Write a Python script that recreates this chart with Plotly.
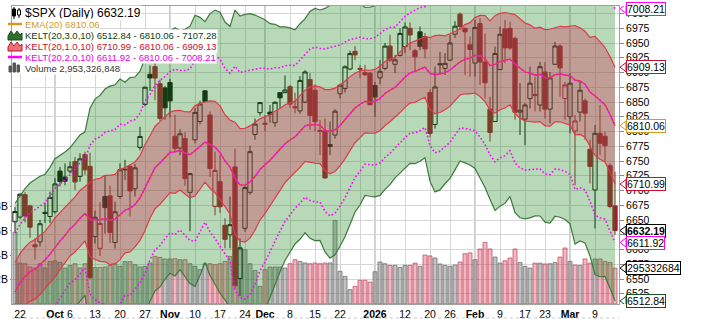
import plotly.graph_objects as go

# ---------------- data ----------------
dates = [
    "2025-09-19",
    "2025-09-22", "2025-09-23", "2025-09-24", "2025-09-25", "2025-09-26",
    "2025-09-29", "2025-09-30", "2025-10-01", "2025-10-02", "2025-10-03",
    "2025-10-06", "2025-10-07", "2025-10-08", "2025-10-09", "2025-10-10",
    "2025-10-13", "2025-10-14", "2025-10-15", "2025-10-16", "2025-10-17",
    "2025-10-20", "2025-10-21", "2025-10-22", "2025-10-23", "2025-10-24",
    "2025-10-27", "2025-10-28", "2025-10-29", "2025-10-30", "2025-10-31",
    "2025-11-03", "2025-11-04", "2025-11-05", "2025-11-06", "2025-11-07",
    "2025-11-10", "2025-11-11", "2025-11-12", "2025-11-13", "2025-11-14",
    "2025-11-17", "2025-11-18", "2025-11-19", "2025-11-20", "2025-11-21",
    "2025-11-24", "2025-11-25", "2025-11-26", "2025-11-28",
    "2025-12-01", "2025-12-02", "2025-12-03", "2025-12-04", "2025-12-05",
    "2025-12-08", "2025-12-09", "2025-12-10", "2025-12-11", "2025-12-12",
    "2025-12-15", "2025-12-16", "2025-12-17", "2025-12-18", "2025-12-19",
    "2025-12-22", "2025-12-23", "2025-12-24", "2025-12-26",
    "2025-12-29", "2025-12-30", "2025-12-31", "2026-01-02",
    "2026-01-05", "2026-01-06", "2026-01-07", "2026-01-08", "2026-01-09",
    "2026-01-12", "2026-01-13", "2026-01-14", "2026-01-15", "2026-01-16",
    "2026-01-20", "2026-01-21", "2026-01-22", "2026-01-23",
    "2026-01-26", "2026-01-27", "2026-01-28", "2026-01-29", "2026-01-30",
    "2026-02-02", "2026-02-03", "2026-02-04", "2026-02-05", "2026-02-06",
    "2026-02-09", "2026-02-10", "2026-02-11", "2026-02-12", "2026-02-13",
    "2026-02-17", "2026-02-18", "2026-02-19", "2026-02-20",
    "2026-02-23", "2026-02-24", "2026-02-25", "2026-02-26", "2026-02-27",
    "2026-03-02", "2026-03-03", "2026-03-04", "2026-03-05", "2026-03-06",
    "2026-03-09", "2026-03-10", "2026-03-11", "2026-03-12", "2026-03-13",
]

opens = [
    6647, 6655, 6693, 6674, 6608, 6613, 6663, 6656, 6664, 6733, 6723,
    6733, 6749, 6724, 6761, 6741, 6622, 6602, 6690, 6691, 6612,
    6690, 6736, 6741, 6703, 6773, 6846, 6897, 6910, 6881, 6874,
    6883, 6792, 6772, 6788, 6697, 6786, 6817, 6869, 6828, 6673,
    6715, 6641, 6625, 6740, 6551, 6636, 6697, 6795, 6832,
    6814, 6833, 6815, 6866, 6866, 6876, 6842, 6835, 6850, 6888,
    6870, 6802, 6801, 6778, 6794, 6864, 6873, 6906, 6936,
    6907, 6900, 6899, 6878, 6891, 6907, 6945, 6914, 6929,
    6944, 6975, 6937, 6969, 6961, 6866, 6812, 6915, 6907,
    6921, 6965, 6999, 6975, 6947, 6916, 6983, 6918, 6838, 6817,
    6905, 6974, 6975, 6958, 6833, 6821, 6856, 6863, 6845,
    6901, 6838, 6914, 6945, 6856, 6825, 6801, 6833, 6852, 6770,
    6701, 6797, 6792, 6742, 6674,
]
highs = [
    6672, 6695, 6697, 6676, 6619, 6650, 6678, 6698, 6721, 6740, 6746,
    6749, 6757, 6763, 6766, 6764, 6666, 6680, 6726, 6708, 6681,
    6746, 6752, 6744, 6745, 6808, 6876, 6912, 6920, 6888, 6877,
    6889, 6828, 6804, 6799, 6730, 6840, 6852, 6870, 6834, 6766,
    6760, 6653, 6690, 6771, 6619, 6709, 6776, 6822, 6850,
    6828, 6845, 6851, 6867, 6895, 6879, 6866, 6894, 6904, 6899,
    6880, 6820, 6822, 6817, 6838, 6881, 6912, 6937, 6945,
    6913, 6913, 6901, 6884, 6921, 6950, 6964, 6930, 6975,
    6985, 6985, 6940, 6978, 6967, 6872, 6910, 6935, 6933,
    6964, 6987, 7002, 6976, 6961, 6989, 6992, 6966, 6859, 6944,
    6978, 6989, 6986, 6961, 6882, 6848, 6910, 6893, 6918,
    6918, 6901, 6952, 6948, 6884, 6899, 6828, 6887, 6856, 6786,
    6811, 6845, 6800, 6746, 6732,
]
lows = [
    6630, 6652, 6646, 6620, 6583, 6605, 6645, 6645, 6661, 6707, 6709,
    6729, 6701, 6715, 6727, 6550, 6610, 6589, 6627, 6611, 6602,
    6686, 6718, 6656, 6690, 6768, 6843, 6869, 6853, 6818, 6820,
    6824, 6766, 6760, 6708, 6631, 6780, 6812, 6850, 6723, 6658,
    6662, 6602, 6602, 6535, 6521, 6630, 6693, 6786, 6827,
    6800, 6815, 6808, 6839, 6865, 6840, 6831, 6830, 6848, 6803,
    6801, 6760, 6720, 6760, 6788, 6856, 6866, 6904, 6921,
    6890, 6894, 6845, 6825, 6880, 6904, 6918, 6899, 6927,
    6933, 6938, 6901, 6938, 6924, 6790, 6805, 6896, 6896,
    6920, 6959, 6972, 6896, 6893, 6893, 6879, 6856, 6783, 6817,
    6904, 6916, 6938, 6820, 6794, 6777, 6839, 6834, 6834,
    6822, 6814, 6913, 6859, 6820, 6797, 6709, 6817, 6786, 6712,
    6636, 6760, 6750, 6670, 6625,
]
closes = [
    6664.36, 6693.75, 6656.92, 6637.97, 6604.72, 6643.70, 6661.21, 6688.46, 6711.20, 6715.35, 6715.79,
    6740.28, 6714.59, 6753.72, 6735.11, 6552.51, 6654.72, 6644.31, 6671.06, 6629.07, 6664.01,
    6735.13, 6735.35, 6699.40, 6738.44, 6791.69, 6875.16, 6890.89, 6890.59, 6822.34, 6840.20,
    6851.97, 6771.55, 6796.29, 6720.32, 6728.80, 6832.43, 6846.61, 6850.92, 6737.49, 6734.11,
    6672.41, 6617.32, 6642.16, 6538.76, 6602.99, 6705.12, 6765.88, 6812.61, 6849.09,
    6812.63, 6829.37, 6849.72, 6857.12, 6870.40, 6846.51, 6840.51, 6886.68, 6901.00, 6827.41,
    6816.51, 6800.26, 6721.43, 6774.76, 6834.50, 6878.49, 6909.79, 6932.05, 6929.94,
    6905.74, 6896.24, 6845.50, 6858.47, 6902.05, 6944.82, 6920.93, 6921.46, 6966.28,
    6977.27, 6963.74, 6926.60, 6944.47, 6940.01, 6796.86, 6875.62, 6913.35, 6915.61,
    6950.23, 6978.60, 6978.03, 6969.01, 6939.03, 6976.44, 6917.81, 6882.72, 6798.40, 6932.30,
    6964.82, 6941.81, 6941.47, 6832.76, 6836.17, 6845, 6882, 6861, 6910,
    6838, 6891, 6945, 6908, 6879, 6882, 6818, 6870, 6831, 6741,
    6797, 6780, 6776, 6673, 6632.19,
]
volume_b = [
    5.90, 3.37, 3.31, 3.04, 2.96, 3.31, 2.96, 3.50, 3.55, 3.43, 2.96,
    3.16, 3.31, 2.96, 3.31, 3.60, 3.00, 3.00, 3.04, 3.16, 3.31,
    3.09, 3.48, 3.48, 3.23, 3.04, 3.09, 3.37, 3.91, 3.83, 3.70,
    3.70, 3.72, 3.64, 3.64, 3.31, 3.09, 2.82, 3.31, 3.31, 3.23,
    3.31, 3.50, 3.91, 3.60, 4.46, 4.46, 3.31, 2.76, 1.45,
    2.82, 3.04, 3.04, 3.04, 2.96, 3.31, 3.64, 3.50, 3.37, 3.31,
    3.37, 3.31, 3.37, 3.37, 6.85, 2.68, 2.27, 1.18, 1.45,
    1.95, 1.95, 1.80, 2.65, 3.45, 3.31, 3.17, 3.17, 3.00,
    3.17, 3.17, 3.36, 3.10, 4.02, 3.95, 3.78, 3.29, 3.17,
    3.09, 3.20, 3.45, 4.13, 4.20, 3.64, 4.52, 5.06, 4.52, 3.86,
    3.36, 3.55, 3.78, 4.52, 3.40, 3.09, 2.95, 3.36, 3.36,
    3.29, 3.31, 3.40, 3.86, 4.60, 3.50, 3.20, 3.17, 3.70, 3.36,
    3.70, 3.70, 3.50, 3.40, 2.953326848,
]
ema20 = [
    6528.0, 6543.8, 6554.6, 6562.5, 6566.5, 6573.9, 6582.2, 6592.3, 6603.6, 6614.3, 6623.9,
    6635.0, 6642.6, 6653.2, 6661.0, 6650.7, 6651.1, 6650.4, 6652.4, 6650.2, 6651.5,
    6659.5, 6666.7, 6669.8, 6676.4, 6687.3, 6705.2, 6722.9, 6738.9, 6746.8, 6755.7,
    6764.9, 6765.5, 6768.4, 6763.8, 6760.5, 6767.4, 6774.9, 6782.2, 6777.9, 6773.7,
    6764.1, 6750.1, 6739.8, 6720.7, 6709.5, 6709.1, 6714.5, 6723.8, 6735.7,
    6743.1, 6751.3, 6760.7, 6769.8, 6779.4, 6785.8, 6791.0, 6800.1, 6809.7, 6811.4,
    6811.9, 6810.8, 6802.3, 6799.7, 6803.0, 6810.2, 6819.7, 6830.4, 6839.9,
    6846.2, 6851.0, 6850.5, 6851.3, 6856.1, 6864.5, 6869.9, 6874.8, 6883.5,
    6892.4, 6899.2, 6901.8, 6905.9, 6909.2, 6898.5, 6896.3, 6897.9, 6899.6,
    6904.4, 6911.5, 6917.8, 6922.7, 6924.3, 6929.2, 6928.1, 6923.8, 6911.9, 6913.8,
    6918.7, 6920.9, 6922.8, 6914.3, 6906.8, 6900.9, 6899.1, 6895.5, 6896.9,
    6891.3, 6891.3, 6896.4, 6897.5, 6895.7, 6894.4, 6887.1, 6885.5, 6880.3, 6867.0,
    6860.4, 6852.7, 6845.4, 6829.0, 6810.062,
]
atr10 = [
    50.0, 49.3, 49.5, 50.1, 50.6, 50.1, 48.5, 49.0, 50.1, 48.4, 47.2,
    45.8, 46.8, 47.0, 46.2, 63.0, 68.0, 70.3, 73.2, 75.6, 75.9,
    76.5, 72.3, 73.9, 72.0, 71.7, 73.0, 70.0, 69.7, 70.0, 68.7,
    68.3, 70.1, 67.5, 69.8, 72.7, 76.6, 72.9, 68.0, 74.0, 77.4,
    79.4, 78.5, 79.5, 95.1, 95.4, 96.5, 95.1, 91.2, 85.8,
    82.1, 77.2, 73.7, 69.2, 66.0, 63.3, 60.5, 60.9, 60.4, 64.1,
    65.6, 65.1, 68.8, 71.4, 70.6, 68.2, 66.0, 62.7, 58.8,
    56.9, 53.1, 53.4, 54.0, 54.8, 54.2, 53.3, 51.1, 51.3,
    51.4, 51.0, 52.1, 52.1, 51.2, 61.0, 66.2, 65.6, 62.7,
    61.3, 58.8, 55.9, 58.6, 60.3, 63.9, 68.8, 72.9, 75.6, 82.6,
    81.7, 80.9, 77.6, 83.9, 84.3, 83.0, 81.8, 79.5, 80.0,
    81.6, 82.1, 80.0, 80.9, 81.6, 83.6, 92.6, 90.3, 89.7, 92.6,
    100.9, 99.6, 97.0, 98.0, 99.0726,
]

tick_dates = ["2025-09-22", "2025-09-29", "2025-10-01", "2025-10-06", "2025-10-13",
              "2025-10-20", "2025-10-27", "2025-11-03", "2025-11-10", "2025-11-17",
              "2025-11-24", "2025-12-01", "2025-12-08", "2025-12-15", "2025-12-22",
              "2025-12-29", "2026-01-02", "2026-01-05", "2026-01-12", "2026-01-20",
              "2026-01-26", "2026-02-02", "2026-02-09", "2026-02-17", "2026-02-23",
              "2026-03-02", "2026-03-09"]
tick_text = ["22", "", "<b>Oct</b>", "6", "13", "20", "27", "<b>Nov</b>", "10", "17",
             "24", "<b>Dec</b>", "8", "15", "22", "", "<b>2026</b>", "", "12", "20",
             "26", "<b>Feb</b>", "9", "17", "23", "<b>Mar</b>", "9"]
month_dates = ["2025-10-01", "2025-11-03", "2025-12-01", "2026-01-02", "2026-02-02", "2026-03-02"]

vol_tick_vals = [2e9, 4e9, 6e9, 8e9]
vol_tick_text = ["2B", "4B", "6B", "8B"]

# ---------------- derived ----------------
n = len(dates)
xi = list(range(n))
up3 = [e + 3 * a for e, a in zip(ema20, atr10)]
lo3 = [e - 3 * a for e, a in zip(ema20, atr10)]
up1 = [e + 1 * a for e, a in zip(ema20, atr10)]
lo1 = [e - 1 * a for e, a in zip(ema20, atr10)]
up2 = [e + 2 * a for e, a in zip(ema20, atr10)]
lo2 = [e - 2 * a for e, a in zip(ema20, atr10)]
volume = [v * 1e9 for v in volume_b]

is_down = [i > 0 and closes[i] < closes[i - 1] for i in xi]
blk = [i for i in xi if not is_down[i]]
red = [i for i in xi if is_down[i]]

W, H = 710, 319
L, R, T, B = 12, 91, 6, 15
PW, PH = W - L - R, H - T - B
PX_PER_DAY = 5.0


def px_x(px):
    return (px - L) / PW


def px_y(py):
    return 1 - (py - T) / PH


FONT = "Liberation Sans, Arial, sans-serif"
BLACK = "#0a160a"
RED = "#a8182c"
GREEN_LINE = "#3c7a3c"
GREEN_FILL = "rgba(40,140,40,0.33)"
RED_LINE = "#e03a4a"
RED_FILL = "rgba(210,40,80,0.33)"
MAGENTA = "#ff00ff"
ORANGE = "#d49a1e"

fig = go.Figure()

# volume (base axis, left)
vol_fill = ["rgba(205,60,85,0.36)" if d else "rgba(110,110,110,0.42)" for d in is_down]
vol_line = ["rgba(200,70,95,0.75)" if d else "rgba(100,100,100,0.7)" for d in is_down]
fig.add_trace(go.Bar(x=xi, y=volume, marker=dict(color=vol_fill, line=dict(color=vol_line, width=1)),
                     yaxis="y", showlegend=False, hoverinfo="skip"))

# outer keltner (3.0)
fig.add_trace(go.Scatter(x=xi, y=lo3, mode="lines", line=dict(color=GREEN_LINE, width=1.2),
                         yaxis="y2", showlegend=False, hoverinfo="skip"))
fig.add_trace(go.Scatter(x=xi, y=up3, mode="lines", line=dict(color=GREEN_LINE, width=1.2),
                         fill="tonexty", fillcolor=GREEN_FILL, yaxis="y2", showlegend=False, hoverinfo="skip"))
# inner keltner (1.0)
fig.add_trace(go.Scatter(x=xi, y=lo1, mode="lines", line=dict(color=RED_LINE, width=1.2),
                         yaxis="y2", showlegend=False, hoverinfo="skip"))
fig.add_trace(go.Scatter(x=xi, y=up1, mode="lines", line=dict(color=RED_LINE, width=1.2),
                         fill="tonexty", fillcolor=RED_FILL, yaxis="y2", showlegend=False, hoverinfo="skip"))
# EMA and middle lines
fig.add_trace(go.Scatter(x=xi, y=ema20, mode="lines", line=dict(color=ORANGE, width=1),
                         yaxis="y2", showlegend=False, hoverinfo="skip"))
fig.add_trace(go.Scatter(x=xi, y=ema20, mode="lines", line=dict(color=RED_LINE, width=1.3),
                         yaxis="y2", showlegend=False, hoverinfo="skip"))
for series in (up2, lo2, ema20):
    fig.add_trace(go.Scatter(x=xi, y=series, mode="lines",
                             line=dict(color=MAGENTA, width=1.6, dash="1.6px,2.2px"),
                             yaxis="y2", showlegend=False, hoverinfo="skip"))

# candles
for idx, col in ((blk, BLACK), (red, RED)):
    fig.add_trace(go.Candlestick(
        x=idx,
        open=[opens[i] for i in idx], high=[highs[i] for i in idx],
        low=[lows[i] for i in idx], close=[closes[i] for i in idx],
        increasing=dict(line=dict(color=col, width=1), fillcolor="rgba(0,0,0,0)"),
        decreasing=dict(line=dict(color=col, width=1), fillcolor=col),
        whiskerwidth=0, yaxis="y2", showlegend=False, hoverinfo="skip"))

# ---------------- axes ----------------
y2_lo = 6975 - (304 - 28.3) / 0.59
y2_hi = 6975 + (28.3 - 6) / 0.59
vol_top = PH / 12.17 * 1e9

fig.update_layout(
    width=W, height=H, margin=dict(l=L, r=R, t=T, b=B, pad=0),
    paper_bgcolor="white", plot_bgcolor="white",
    font=dict(family=FONT, size=10.5, color="black"),
    hovermode=False, showlegend=False, boxgap=0.15, boxgroupgap=0,
    xaxis=dict(range=[-(15 - L) / PX_PER_DAY, (W - R - 15) / PX_PER_DAY],
               tickmode="array", tickvals=[dates.index(d) for d in tick_dates], ticktext=tick_text,
               tickfont=dict(size=10.5, color="black"), ticks="", showgrid=True, gridcolor="#d6d6d6",
               gridwidth=1, showline=True, linecolor="#a0a0a0", mirror=True, zeroline=False,
               rangeslider=dict(visible=False), automargin=False),
    yaxis=dict(range=[0, vol_top], tickmode="array", tickvals=vol_tick_vals, ticktext=vol_tick_text,
               showgrid=False, zeroline=False, ticks="outside", ticklen=1, tickcolor="#888",
               tickfont=dict(size=10.5, color="black"), showline=True, linecolor="#a0a0a0",
               automargin=False),
    yaxis2=dict(range=[y2_lo, y2_hi], overlaying="y", side="right", dtick=25, tick0=0,
                tickformat="d", showgrid=True, gridcolor="#d6d6d6", zeroline=False,
                ticks="outside", ticklen=4, tickcolor="#888", tickfont=dict(size=10.5, color="black"),
                showline=True, linecolor="#a0a0a0", automargin=False),
)

shapes = []
for d in month_dates:
    i = dates.index(d)
    shapes.append(dict(type="line", xref="x", yref="paper", x0=i, x1=i, y0=0, y1=1,
                       line=dict(color="#9a9a9a", width=1), layer="below"))

# ---------------- right-side value tags ----------------
last = n - 1
tags = [
    (up2[last], "y2", MAGENTA, f"{up2[last]:.2f}", False),
    (up1[last], "y2", "#c8102e", f"{up1[last]:.2f}", False),
    (ema20[last], "y2", ORANGE, f"{ema20[last]:.2f}", False),
    (lo1[last], "y2", "#c8102e", f"{lo1[last]:.2f}", False),
    (closes[last], "y2", "black", f"{closes[last]:.2f}", True),
    (lo2[last], "y2", MAGENTA, f"{lo2[last]:.2f}", False),
    (volume[last], "y", "black", f"{int(round(volume[last]))}"[:9], False),
    (lo3[last], "y2", "#1e4d1e", f"{lo3[last]:.2f}", False),
]
annotations = []
for val, yref, col, txt, bold in tags:
    per_px = (y2_hi - y2_lo) / PH if yref == "y2" else vol_top / PH
    hh = 4.5 * per_px
    x_tip, x_base = px_x(W - R + 1), px_x(W - R + 7)
    shapes.append(dict(type="path", xref="paper", yref=yref,
                       path=f"M {x_tip},{val} L {x_base},{val + hh} L {x_base},{val - hh} Z",
                       fillcolor="white", line=dict(color=col, width=1), layer="above"))
    annotations.append(dict(x=x_base, y=val, xref="paper", yref=yref, xanchor="left", yanchor="middle",
                            text=f"<b>{txt}</b>" if bold else txt, showarrow=False,
                            font=dict(size=10.5, color="black", family=FONT),
                            bgcolor="white", bordercolor=col, borderwidth=1, borderpad=0))

# ---------------- legend block (top-left) ----------------
legend_lines = [
    (f"$SPX (Daily) {closes[last]:.2f}", "black", 12),
    (f"EMA(20) {ema20[last]:.2f}", ORANGE, 9.5),
    (f"KELT(20,3.0,10) {lo3[last]:.2f} - {ema20[last]:.2f} - {up3[last]:.2f}", "#0b3d0b", 9.5),
    (f"KELT(20,1.0,10) {lo1[last]:.2f} - {ema20[last]:.2f} - {up1[last]:.2f}", "#c8102e", 9.5),
    (f"KELT(20,2.0,10) {lo2[last]:.2f} - {ema20[last]:.2f} - {up2[last]:.2f}", "#e600e6", 9.5),
    (f"Volume {int(round(volume[last])):,}", "#333333", 9.5),
]
line_y = [13, 24, 35, 46, 57, 68]
shapes.append(dict(type="rect", xref="paper", yref="paper", x0=px_x(L), x1=px_x(25),
                   y0=px_y(74), y1=px_y(T + 0.5), fillcolor="white", line=dict(width=0), layer="above"))
for (txt, col, size), yc in zip(legend_lines, line_y):
    annotations.append(dict(x=px_x(24), y=px_y(yc), xref="paper", yref="paper", xanchor="left",
                            yanchor="middle", text=txt, showarrow=False, bgcolor="white", borderpad=0,
                            font=dict(size=size, color=col, family=FONT)))


def poly(points, fill, line_col=None):
    p = "M " + " L ".join(f"{px_x(a)},{px_y(b)}" for a, b in points) + " Z"
    return dict(type="path", xref="paper", yref="paper", path=p, fillcolor=fill,
                line=dict(color=line_col or fill, width=1), layer="above")


def hline(yc, col):
    return dict(type="line", xref="paper", yref="paper", x0=px_x(8), x1=px_x(22),
                y0=px_y(yc), y1=px_y(yc), line=dict(color=col, width=2.5), layer="above")


# candle icon
shapes.append(dict(type="line", xref="paper", yref="paper", x0=px_x(14), x1=px_x(14), y0=px_y(7),
                   y1=px_y(19), line=dict(color="black", width=1), layer="above"))
shapes.append(poly([(12.5, 9), (15.5, 9), (15.5, 16), (12.5, 16)], "black"))
shapes.append(dict(type="line", xref="paper", yref="paper", x0=px_x(19), x1=px_x(19), y0=px_y(8),
                   y1=px_y(18), line=dict(color="black", width=1), layer="above"))
shapes.append(poly([(17.5, 10), (20.5, 10), (20.5, 15), (17.5, 15)], "white", "black"))
shapes.append(hline(24, ORANGE))
shapes.append(poly([(8, 40), (8, 36), (11, 31), (14, 35), (17, 31), (20, 35), (22, 33), (22, 40)],
                   "#2f6f2f", "#1e4d1e"))
shapes.append(poly([(8, 51), (8, 47), (11, 42), (14, 46), (17, 42), (20, 46), (22, 44), (22, 51)],
                   "#e8707a", "#c8102e"))
shapes.append(hline(57, MAGENTA))
for x0, top in ((9, 66), (13, 63), (17, 65)):
    shapes.append(poly([(x0, 72), (x0, top), (x0 + 2.5, top), (x0 + 2.5, 72)], "#555555"))

# bottom rule under the date labels
shapes.append(dict(type="line", xref="paper", yref="paper", x0=px_x(L), x1=px_x(W - R), y0=px_y(318),
                   y1=px_y(318), line=dict(color="#c8c8c8", width=1, dash="dot"), layer="above"))

fig.update_layout(shapes=shapes, annotations=annotations)
fig.write_html("out.html")
